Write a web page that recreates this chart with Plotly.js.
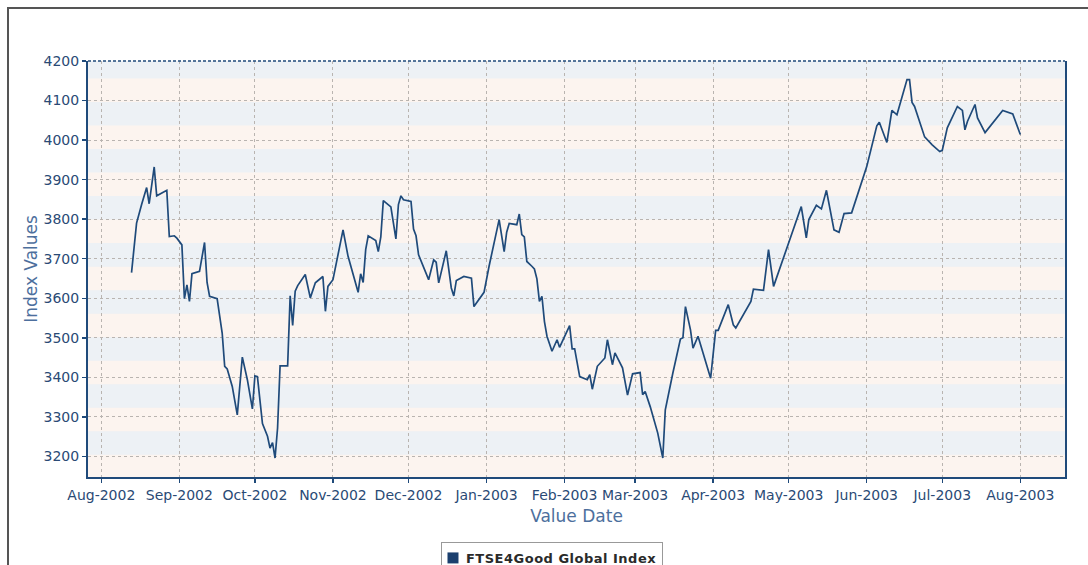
<!DOCTYPE html>
<html>
<head>
<meta charset="utf-8">
<script src="https://cdn.plot.ly/plotly-3.0.1.min.js"></script>
<style>
  html, body { margin: 0; padding: 0; background: #ffffff; overflow: hidden; }
  #wrap { position: relative; width: 1088px; height: 565px; overflow: hidden; }
  #chart { position: absolute; left: 0; top: 0; width: 1088px; height: 565px; }
  #frame { position: absolute; left: 7px; top: 7px; width: 1200px; height: 700px;
           border-left: 2px solid #555; border-top: 2px solid #555; pointer-events: none; }
  #chart .legendtext { letter-spacing: 0.5px; }
</style>
</head>
<body>
<div id="wrap">
  <div id="chart"></div>
  <div id="frame"></div>
</div>
<script>
// ---- data ----
const dates = [
  '2002-08-13','2002-08-15','2002-08-17','2002-08-19','2002-08-20','2002-08-22','2002-08-23','2002-08-26','2002-08-27','2002-08-28',
  '2002-08-30','2002-08-31','2002-09-02','2002-09-03','2002-09-04','2002-09-05','2002-09-06','2002-09-09','2002-09-11','2002-09-12',
  '2002-09-13','2002-09-16','2002-09-18','2002-09-19','2002-09-20','2002-09-22','2002-09-24','2002-09-26','2002-09-28','2002-09-30',
  '2002-10-01','2002-10-02','2002-10-04','2002-10-06','2002-10-07','2002-10-08','2002-10-09','2002-10-10','2002-10-11','2002-10-14',
  '2002-10-15','2002-10-16','2002-10-17','2002-10-18','2002-10-21','2002-10-23','2002-10-25','2002-10-28','2002-10-29','2002-10-30',
  '2002-11-01','2002-11-05','2002-11-07','2002-11-11','2002-11-12','2002-11-13','2002-11-14','2002-11-15','2002-11-18','2002-11-19',
  '2002-11-20','2002-11-21','2002-11-24','2002-11-26','2002-11-27','2002-11-28','2002-11-29','2002-12-02','2002-12-03','2002-12-04',
  '2002-12-05','2002-12-09','2002-12-11','2002-12-12','2002-12-13','2002-12-16','2002-12-18','2002-12-19','2002-12-20','2002-12-23',
  '2002-12-26','2002-12-27','2002-12-31','2003-01-02','2003-01-06','2003-01-08','2003-01-09','2003-01-10','2003-01-13','2003-01-14',
  '2003-01-15','2003-01-16','2003-01-17','2003-01-19','2003-01-20','2003-01-21','2003-01-22','2003-01-23','2003-01-24','2003-01-25',
  '2003-01-27','2003-01-29','2003-01-30','2003-02-03','2003-02-04','2003-02-05','2003-02-07','2003-02-10','2003-02-11','2003-02-12',
  '2003-02-14','2003-02-17','2003-02-18','2003-02-20','2003-02-21','2003-02-24','2003-02-26','2003-02-28','2003-03-03','2003-03-04',
  '2003-03-05','2003-03-07','2003-03-10','2003-03-12','2003-03-13','2003-03-16','2003-03-18','2003-03-19','2003-03-20','2003-03-21',
  '2003-03-23','2003-03-24','2003-03-26','2003-03-31','2003-04-02','2003-04-03','2003-04-07','2003-04-09','2003-04-10','2003-04-16',
  '2003-04-17','2003-04-21','2003-04-23','2003-04-25','2003-05-06','2003-05-08','2003-05-09','2003-05-12','2003-05-14','2003-05-16',
  '2003-05-19','2003-05-21','2003-05-23','2003-05-26','2003-06-01','2003-06-05','2003-06-06','2003-06-09','2003-06-11','2003-06-13',
  '2003-06-17','2003-06-18','2003-06-19','2003-06-20','2003-06-24','2003-06-25','2003-06-27','2003-06-30','2003-07-01','2003-07-03',
  '2003-07-07','2003-07-09','2003-07-10','2003-07-11','2003-07-14','2003-07-15','2003-07-18','2003-07-25','2003-07-29','2003-08-01'
];
const indexValues = [
  3665,3790,3837,3880,3839,3932,3859,3870,3873,3756,
  3758,3752,3735,3599,3634,3592,3662,3668,3741,3640,
  3605,3599,3512,3428,3421,3377,3305,3451,3394,3320,
  3404,3402,3283,3251,3221,3235,3196,3272,3429,3429,
  3606,3531,3618,3632,3660,3601,3639,3655,3567,3630,
  3647,3773,3706,3615,3662,3640,3723,3758,3746,3718,
  3755,3847,3831,3750,3837,3859,3849,3845,3775,3758,
  3710,3647,3697,3691,3639,3720,3626,3606,3645,3655,
  3651,3579,3615,3681,3799,3718,3767,3789,3786,3813,
  3761,3755,3693,3681,3674,3649,3592,3605,3541,3504,
  3466,3495,3476,3531,3472,3472,3402,3394,3407,3370,
  3428,3449,3495,3432,3462,3424,3355,3409,3412,3356,
  3364,3326,3259,3196,3318,3411,3470,3497,3500,3579,
  3520,3474,3504,3398,3519,3519,3584,3533,3525,3592,
  3623,3620,3723,3630,3832,3753,3799,3835,3826,3873,
  3773,3767,3814,3816,3933,4036,4045,3994,4075,4064,
  4153,4153,4095,4085,4008,4001,3988,3971,3974,4031,
  4085,4075,4026,4047,4090,4056,4019,4075,4066,4014
];
const seriesName = 'FTSE4Good Global Index';
const monthTicks = ['2002-08-01','2002-09-01','2002-10-01','2002-11-01','2002-12-01','2003-01-01',
                    '2003-02-01','2003-03-01','2003-04-01','2003-05-01','2003-06-01','2003-07-01','2003-08-01'];
const monthLabels = ['Aug-2002','Sep-2002','Oct-2002','Nov-2002','Dec-2002','Jan-2003',
                     'Feb-2003','Mar-2003','Apr-2003','May-2003','Jun-2003','Jul-2003','Aug-2003'];
const yTicks = [3200,3300,3400,3500,3600,3700,3800,3900,4000,4100,4200];

// ---- styling ----
const navy = '#1f4a7a';
const tickColor = '#2a4a75';
const titleColor = '#4d6f9d';
const font = 'DejaVu Sans, Verdana, sans-serif';

// alternating background bands
const shapes = [];
for (let b = 3204; b < 4200; b += 119) {
  shapes.push({type: 'rect', layer: 'below', xref: 'paper', x0: 0, x1: 1, yref: 'y',
               y0: b, y1: Math.min(b + 59.5, 4200), fillcolor: '#edf1f5', line: {width: 0}});
}
shapes.push({type: 'line', xref: 'paper', x0: 0, x1: 1, yref: 'paper', y0: 1, y1: 1,
             line: {color: navy, width: 1.5, dash: '3px,2px'}});

const traces = [
  {x: dates, y: indexValues, type: 'scatter', mode: 'lines', name: seriesName,
   line: {color: navy, width: 1.7}, showlegend: false, hoverinfo: 'x+y'},
  {x: [null], y: [null], type: 'scatter', mode: 'markers', name: seriesName,
   marker: {symbol: 'square', size: 11, color: '#1b3f6e'}, showlegend: true}
];

const layout = {
  width: 1088, height: 565,
  margin: {l: 88, r: 23, t: 61, b: 88, autoexpand: false},
  paper_bgcolor: '#ffffff',
  plot_bgcolor: '#fcf4ef',
  font: {family: font, color: tickColor},
  showlegend: true,
  legend: {orientation: 'h', x: 0.3613, xanchor: 'left', y: -0.1562, yanchor: 'top',
           bordercolor: '#999999', borderwidth: 1, bgcolor: '#ffffff', itemwidth: 30,
           font: {family: font, size: 13, color: '#2a2a2a', weight: 'bold'}},
  xaxis: {
    type: 'date',
    range: ['2002-07-26 17:00', '2003-08-18 18:00'],
    tickmode: 'array', tickvals: monthTicks, ticktext: monthLabels,
    ticks: 'outside', ticklen: 4, tickwidth: 1.5, tickcolor: navy,
    showline: true, linecolor: navy, linewidth: 2, mirror: false,
    showgrid: true, gridcolor: '#b9b4b0', gridwidth: 1, griddash: '3px,3px',
    zeroline: false,
    tickfont: {family: font, size: 14, color: tickColor},
    title: {text: 'Value Date', font: {family: font, size: 17, color: titleColor}, standoff: 8},
    automargin: false
  },
  yaxis: {
    range: [3148, 4200],
    tickmode: 'array', tickvals: yTicks,
    ticks: 'outside', ticklen: 4, tickwidth: 1.5, tickcolor: navy,
    showline: true, linecolor: navy, linewidth: 2, mirror: true,
    showgrid: true, gridcolor: '#b9b4b0', gridwidth: 1, griddash: '3px,3px',
    zeroline: false,
    tickfont: {family: font, size: 14, color: tickColor},
    title: {text: 'Index Values', font: {family: font, size: 17, color: titleColor}, standoff: 2},
    automargin: false
  },
  shapes: shapes
};

const gd = document.getElementById('chart');
Plotly.newPlot(gd, traces, layout, {displayModeBar: false, staticPlot: true}).then(function () {
  // tighten the legend entry: symbol and text closer to the box's left edge
  const leg = gd.querySelector('.legend');
  if (!leg) return;
  const shift = 16;
  leg.querySelectorAll('.legendtext').forEach(function (t) {
    t.setAttribute('x', +t.getAttribute('x') - shift);
  });
  leg.querySelectorAll('.legendpoints path').forEach(function (p) {
    p.setAttribute('transform', 'translate(11,0)');
  });
  const bg = leg.querySelector('rect.bg');
  if (bg) bg.setAttribute('width', +bg.getAttribute('width') - 5);
});
</script>
</body>
</html>
